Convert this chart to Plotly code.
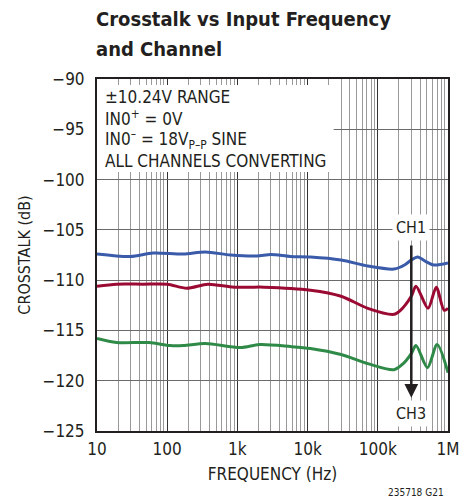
import numpy as np
import plotly.graph_objects as go

# ---- data ----
freq_blue = [10, 30, 63, 170, 350, 800, 1900, 3000, 5700, 11000, 30000, 72000, 170000, 240000, 300000, 370000, 500000, 630000, 1000000]
ch_blue = [-107.4, -107.65, -107.3, -107.4, -107.2, -107.5, -107.6, -107.45, -107.65, -107.7, -108.0, -108.6, -108.9, -108.5, -108.0, -107.7, -108.2, -108.5, -108.3]

freq_red = [10, 19, 45, 100, 190, 380, 900, 2400, 11000, 30000, 72000, 170000, 210000, 300000, 350000, 520000, 680000, 880000, 1000000]
ch_red = [-110.6, -110.4, -110.4, -110.4, -110.8, -110.4, -110.7, -110.7, -111.0, -111.6, -112.8, -113.4, -113.0, -111.6, -110.6, -112.8, -110.7, -113.0, -112.8]

freq_green = [10, 19, 55, 110, 170, 350, 1100, 2100, 5700, 11000, 30000, 72000, 170000, 230000, 300000, 350000, 510000, 700000, 1000000]
ch_green = [-115.8, -116.2, -116.2, -116.5, -116.5, -116.3, -116.7, -116.4, -116.6, -116.8, -117.4, -118.3, -118.9, -118.3, -117.3, -116.5, -118.7, -116.4, -119.2]

x_tickvals = [10, 100, 1000, 10000, 100000, 1000000]
x_ticktext = ["10", "100", "1k", "10k", "100k", "1M"]
y_tickvals = [-90, -95, -100, -105, -110, -115, -120, -125]
y_ticktext = ["\u221290", "\u221295", "\u2212100", "\u2212105", "\u2212110", "\u2212115", "\u2212120", "\u2212125"]

FONT = "DejaVu Sans Condensed, DejaVu Sans, sans-serif"
TXT = "#231f20"

fig = go.Figure()
for fx, fy, col in [(freq_blue, ch_blue, "#3a5ba9"), (freq_red, ch_red, "#9b0a33"), (freq_green, ch_green, "#2f8a48")]:
    fig.add_trace(go.Scatter(x=fx, y=fy, mode="lines",
                             line=dict(color=col, width=3, shape="spline", smoothing=0.8),
                             showlegend=False, hoverinfo="skip"))

# page body has an 8px margin; compensate so the plot lands where the reference has it
fig.update_layout(
    width=476, height=501,
    margin=dict(l=89, r=36, t=71, b=78),
    paper_bgcolor="white", plot_bgcolor="white",
    font=dict(family=FONT, size=16, color=TXT),
    showlegend=False,
)

fig.update_xaxes(
    type="log", range=[1, 6],
    tickvals=x_tickvals, ticktext=x_ticktext,
    showgrid=True, gridcolor="#333333", gridwidth=1.3,
    minor=dict(dtick="D1", showgrid=True, gridcolor="#9a9a9a", gridwidth=1.3, ticks=""),
    showline=True, linecolor="#231f20", linewidth=2, mirror=True,
    ticks="", tickfont=dict(size=17, family=FONT, color=TXT), ticklabelstandoff=2,
    title=dict(text="FREQUENCY (Hz)", font=dict(size=17, family=FONT, color=TXT), standoff=10),
    zeroline=False,
)
fig.update_yaxes(
    range=[-125, -90],
    tickvals=y_tickvals, ticktext=y_ticktext,
    showgrid=True, gridcolor="#6a6a6a", gridwidth=1.3,
    showline=True, linecolor="#231f20", linewidth=2, mirror=True,
    ticks="", tickfont=dict(size=17, family=FONT, color=TXT), ticklabelstandoff=7,
    title=dict(text="CROSSTALK (dB)", font=dict(size=16, family=FONT, color=TXT), standoff=8),
    zeroline=False,
)

# white box behind condition text
fig.add_shape(type="rect", xref="x", yref="y", x0=10, x1=23500, y0=-99.25, y1=-90.6,
              fillcolor="white", line=dict(width=0), layer="between")

cond = ["\u00b110.24V RANGE", "IN0<sup>+</sup> = 0V", "IN0<sup>\u2013</sup> = 18V<sub>P\u2013P</sub> SINE", "ALL CHANNELS CONVERTING"]
for i, t in enumerate(cond):
    fig.add_annotation(text=t, xref="paper", yref="paper", x=0.0, y=1 - (18 + i * 21.3) / 352,
                       xanchor="left", yanchor="middle", xshift=6, showarrow=False,
                       font=dict(size=17, family=FONT, color=TXT))

# arrow CH1 -> CH3
fig.add_annotation(x=np.log10(300000), y=-121.7, ax=np.log10(300000), ay=-106.4,
                   xref="x", yref="y", axref="x", ayref="y", text="",
                   showarrow=True, arrowhead=2, arrowsize=1.1, arrowwidth=2.5, arrowcolor="#231f20")
fig.add_annotation(x=np.log10(300000), y=-104.8, xref="x", yref="y", text="CH1", showarrow=False,
                   bgcolor="white", borderpad=3, font=dict(size=16, family=FONT, color=TXT))
fig.add_annotation(x=np.log10(300000), y=-123.3, xref="x", yref="y", text="CH3", showarrow=False,
                   bgcolor="white", borderpad=3, font=dict(size=16, family=FONT, color=TXT))

# title (two lines)
for i, t in enumerate(["Crosstalk vs Input Frequency", "and Channel"]):
    fig.add_annotation(text="<b>" + t + "</b>", xref="paper", yref="paper",
                       x=0, y=1, yshift=60 - i * 30, xshift=-3, xanchor="left", yanchor="middle",
                       align="left", showarrow=False, font=dict(size=20, family=FONT, color=TXT))
# figure code
fig.add_annotation(text="235718 G21", xref="paper", yref="paper", x=1, y=0, xshift=-2, yshift=-61,
                   xanchor="right", yanchor="middle", showarrow=False,
                   font=dict(size=10, family=FONT, color=TXT))

post = """
var css = document.createElement('style');
css.textContent = 'svg text { font-stretch: condensed !important; }';
document.head.appendChild(css);
"""
fig.write_html("out.html", post_script=post)
